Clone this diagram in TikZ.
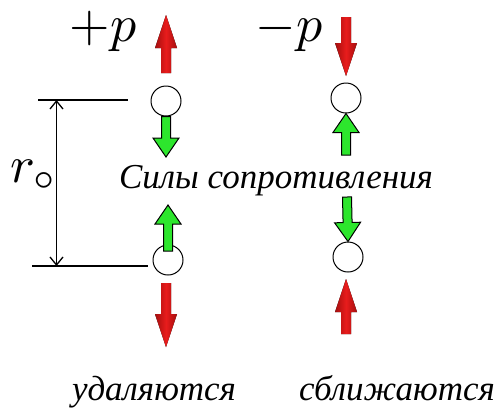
\documentclass[tikz,border=0pt]{standalone}
\usepackage{fontspec}
\newfontfamily\rusfont{Liberation Serif}[ItalicFont={Liberation Serif Italic}]
\usetikzlibrary{arrows.meta,calc}
\definecolor{forcered}{RGB}{232,28,28}
\definecolor{forcedark}{RGB}{165,15,15}
\definecolor{resistgreen}{RGB}{45,230,45}
\newcommand{\forcearrow}[6]{%
  \filldraw[#1] ($(#2)!#4!90:(#3)$) -- ($(#3)!#6!(#2)!#4!90:(#3)$)
    -- ($(#3)!#6!(#2)!#5!90:(#3)$) -- (#3)
    -- ($(#3)!#6!(#2)!#5!-90:(#3)$) -- ($(#3)!#6!(#2)!#4!-90:(#3)$)
    -- ($(#2)!#4!-90:(#3)$) -- cycle;}
\newcommand{\pushforce}[2]{\forcearrow{redforce}{#1}{#2}{5pt}{11pt}{33pt}}
\newcommand{\resistforce}[2]{\forcearrow{greenforce}{#1}{#2}{4.5pt}{13pt}{19pt}}
\tikzset{
  redforce/.style={draw=none, left color=forcedark, right color=forcedark, middle color=forcered},
  greenforce/.style={draw=black, line width=1pt, fill=resistgreen},
  ball/.style={circle, draw, fill=white, line width=1pt, minimum size=30pt, inner sep=0pt},
  mathlabel/.style={inner sep=0pt, scale=5.2},
  rustext/.style={inner sep=0pt, font=\fontsize{35}{38}\selectfont\rusfont\itshape}
}

\begin{document}
\begin{tikzpicture}[x=1pt, y=-1pt]
  \useasboundingbox (0,0) rectangle (502,408);
  \node[ball] (lt) at (166,101) {};
  \node[ball] (rt) at (346,98) {};
  \node[ball] (lb) at (168,260) {};
  \node[ball] (rb) at (348,257) {};

  \coordinate (ltp) at (166,73);
  \coordinate (ltq) at (166,15);
  \coordinate (rtp) at (346,17);
  \coordinate (rtq) at (346,76);
  \coordinate (lbp) at (166,283);
  \coordinate (lbq) at (166,347);
  \coordinate (rbp) at (346,334);
  \coordinate (rbq) at (346,279);
  \pushforce{ltp}{ltq}
  \pushforce{rtp}{rtq}
  \pushforce{lbp}{lbq}
  \pushforce{rbp}{rbq}

  \coordinate (ltg) at (166,157);
  \coordinate (rtg) at (346,155);
  \coordinate (lbs) at (168,251);
  \coordinate (lbg) at (168,205);
  \coordinate (rbg) at (347,197);
  \resistforce{lt.south}{ltg}
  \resistforce{rtg}{rt.south}
  \resistforce{lbs}{lbg}
  \resistforce{rbg}{rb.north}

  \coordinate (t1) at (38,100);
  \coordinate (t2) at (128,100);
  \coordinate (b1) at (32,266);
  \coordinate (b2) at (148,266);
  \coordinate (d1) at (56.5,100);
  \coordinate (d2) at (56.5,266);
  \draw[line width=1.2pt] (t1) -- (t2);
  \draw[line width=1.5pt] (b1) -- (b2);
  \draw[line width=1.3pt, {Straight Barb[length=8pt,width=13pt]}-{Straight Barb[length=8pt,width=13pt]}] (d1) -- (d2);

  \node[mathlabel, anchor=base] (pplus) at (103,41) {$+p$};
  \node[mathlabel, anchor=base] (pminus) at (289,41) {$-p$};
  \node[mathlabel, anchor=base west] (rzero) at (9,182) {$r_{\circ}$};
  \node[rustext, anchor=base] (resist) at (276,188) {Силы сопротивления};
  \node[rustext, anchor=base] (apart) at (154,400) {удаляются};
  \node[rustext, anchor=base] (closer) at (397,400) {сближаются};
\end{tikzpicture}
\end{document}
